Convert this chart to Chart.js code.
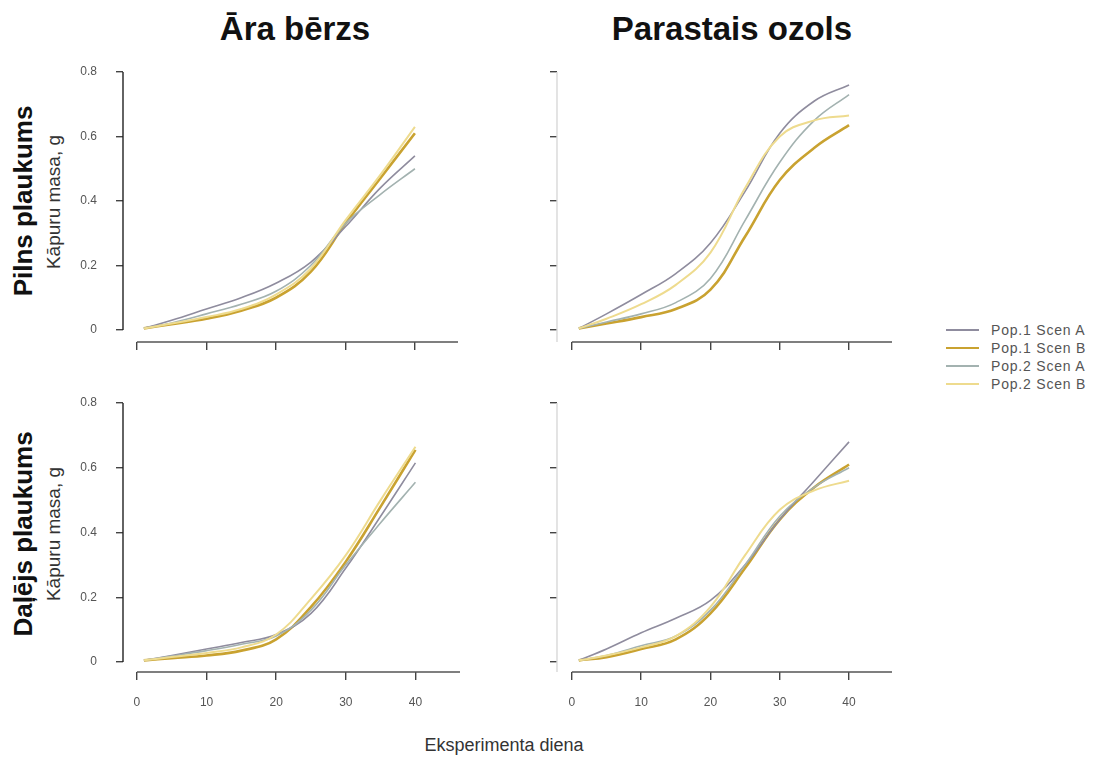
<!DOCTYPE html>
<html>
<head>
<meta charset="utf-8">
<script src="https://cdn.jsdelivr.net/npm/chart.js@4.4.1/dist/chart.umd.min.js"></script>
<style>
  html, body { margin: 0; padding: 0; background: #fff; }
  body { width: 1094px; height: 758px; position: relative; overflow: hidden; font-family: "Liberation Sans", Arial, sans-serif; }
  canvas { position: absolute; left: 0; top: 0; }
  .t { position: absolute; white-space: nowrap; line-height: 1; transform: translate(-50%, -50%); }
  .rot { transform: translate(-50%, -50%) rotate(-90deg); }
  #legend { position: absolute; left: 946px; top: 321px; }
  .lrow { height: 18px; display: flex; align-items: center; }
  .lline { width: 33px; margin-right: 12px; }
  .ltext { font-size: 14px; letter-spacing: 0.8px; color: #555; }
</style>
</head>
<body>
<div class="t" style="left:295px; top:28px; font-size:33px; font-weight:bold; color:#111;">Āra bērzs</div>
<div class="t" style="left:732px; top:28px; font-size:33px; font-weight:bold; color:#111;">Parastais ozols</div>
<div class="t rot" style="left:23px; top:201px; font-size:26px; font-weight:bold; color:#111;">Pilns plaukums</div>
<div class="t rot" style="left:53px; top:202px; font-size:19px; color:#333;">Kāpuru masa, g</div>
<div class="t rot" style="left:23px; top:534px; font-size:26px; font-weight:bold; color:#111;">Daļējs plaukums</div>
<div class="t rot" style="left:53px; top:534px; font-size:19px; color:#333;">Kāpuru masa, g</div>
<div class="t" style="left:504px; top:745px; font-size:18px; color:#333;">Eksperimenta diena</div>
<div id="legend"></div>

<canvas id="c1" width="1094" height="758"></canvas>
<canvas id="c2" width="1094" height="758"></canvas>
<canvas id="c3" width="1094" height="758"></canvas>
<canvas id="c4" width="1094" height="758"></canvas>

<script>
// ---- data ----
const days = [1, 5, 10, 15, 20, 25, 30, 35, 40];
const seriesNames = ['Pop.1 Scen A', 'Pop.1 Scen B', 'Pop.2 Scen A', 'Pop.2 Scen B'];
const xTicks = [0, 10, 20, 30, 40];
const xTickLabels = ['0', '10', '20', '30', '40'];
const yTicks = [0, 0.2, 0.4, 0.6, 0.8];
const yTickLabels = ['0', '0.2', '0.4', '0.6', '0.8'];

// Āra bērzs – Pilns plaukums
const birchFullP1A = [0.005, 0.03, 0.065, 0.10, 0.145, 0.21, 0.32, 0.44, 0.54];
const birchFullP1B = [0.005, 0.018, 0.035, 0.06, 0.10, 0.18, 0.33, 0.47, 0.61];
const birchFullP2A = [0.005, 0.022, 0.05, 0.08, 0.12, 0.20, 0.33, 0.42, 0.50];
const birchFullP2B = [0.005, 0.02, 0.04, 0.065, 0.11, 0.19, 0.34, 0.48, 0.63];
// Parastais ozols – Pilns plaukums
const oakFullP1A = [0.005, 0.05, 0.11, 0.175, 0.27, 0.43, 0.61, 0.71, 0.76];
const oakFullP1B = [0.005, 0.02, 0.04, 0.065, 0.125, 0.29, 0.465, 0.565, 0.635];
const oakFullP2A = [0.005, 0.025, 0.05, 0.085, 0.16, 0.34, 0.52, 0.65, 0.73];
const oakFullP2B = [0.005, 0.035, 0.08, 0.14, 0.24, 0.44, 0.60, 0.65, 0.665];
// Āra bērzs – Daļējs plaukums
const birchPartP1A = [0.005, 0.02, 0.04, 0.06, 0.085, 0.15, 0.29, 0.45, 0.615];
const birchPartP1B = [0.005, 0.012, 0.02, 0.035, 0.07, 0.17, 0.31, 0.48, 0.655];
const birchPartP2A = [0.005, 0.018, 0.035, 0.055, 0.08, 0.16, 0.30, 0.43, 0.555];
const birchPartP2B = [0.005, 0.015, 0.028, 0.045, 0.085, 0.195, 0.33, 0.50, 0.665];
// Parastais ozols – Daļējs plaukums
const oakPartP1A = [0.005, 0.04, 0.09, 0.135, 0.19, 0.30, 0.44, 0.56, 0.68];
const oakPartP1B = [0.005, 0.015, 0.04, 0.07, 0.15, 0.29, 0.44, 0.54, 0.61];
const oakPartP2A = [0.005, 0.02, 0.05, 0.08, 0.16, 0.30, 0.45, 0.54, 0.60];
const oakPartP2B = [0.005, 0.02, 0.045, 0.08, 0.17, 0.33, 0.47, 0.53, 0.56];

// ---- styles ----
const seriesColors = ['#8f8c9e', '#c9a230', '#a3b2b0', '#eedb8e'];
const seriesWidths = [1.6, 2.6, 1.6, 2.0];

// legend
const legendEl = document.getElementById('legend');
seriesNames.forEach((n, i) => {
  const row = document.createElement('div');
  row.className = 'lrow';
  const ln = document.createElement('div');
  ln.className = 'lline';
  ln.style.height = seriesWidths[i] + 'px';
  ln.style.background = seriesColors[i];
  const tx = document.createElement('span');
  tx.className = 'ltext';
  tx.textContent = n;
  row.appendChild(ln); row.appendChild(tx);
  legendEl.appendChild(row);
});

const axisLines = {
  id: 'axisLines',
  afterDraw(chart, args, opts) {
    const ctx = chart.ctx, xs = chart.scales.x, ys = chart.scales.y, ca = chart.chartArea;
    ctx.save();
    ctx.lineWidth = 1.4;
    ctx.strokeStyle = opts.yColor;
    ctx.beginPath();
    ctx.moveTo(ca.left, ys.getPixelForValue(yTicks[yTicks.length - 1]));
    ctx.lineTo(ca.left, opts.yToBottom ? ca.bottom : ys.getPixelForValue(yTicks[0]));
    ctx.stroke();
    ctx.strokeStyle = '#555';
    ctx.beginPath();
    ctx.moveTo(xs.getPixelForValue(xTicks[0]), ca.bottom);
    ctx.lineTo(ca.right, ca.bottom);
    ctx.stroke();
    ctx.restore();
  }
};

function makePanel(id, series, p) {
  const datasets = series.map((vals, i) => ({
    label: seriesNames[i],
    data: days.map((d, k) => ({ x: d, y: vals[k] })),
    borderColor: seriesColors[i],
    borderWidth: seriesWidths[i],
    pointRadius: 0,
    tension: 0.4,
    fill: false
  }));
  const order = [3, 2, 0, 1];
  const ds = order.map(i => datasets[i]);
  new Chart(document.getElementById(id), {
    type: 'line',
    data: { datasets: ds },
    plugins: [axisLines],
    options: {
      responsive: false,
      animation: false,
      events: [],
      clip: false,
      layout: { padding: { left: p.left - 60, right: 1094 - p.right, top: p.top, bottom: 758 - p.bottom - 45 } },
      plugins: {
        legend: { display: false },
        tooltip: { enabled: false },
        axisLines: { yColor: p.yColor, yToBottom: p.yToBottom }
      },
      scales: {
        x: {
          type: 'linear',
          min: p.xmin, max: p.xmax,
          afterBuildTicks: s => { s.ticks = xTicks.map(v => ({ value: v })); },
          afterFit: s => { s.height = 45; },
          border: { display: false },
          grid: { display: true, drawOnChartArea: false, drawTicks: true, tickLength: 8, color: '#444', lineWidth: 1.4 },
          ticks: {
            display: p.xLabels, autoSkip: false, maxRotation: 0, padding: 15,
            color: '#555', font: { family: 'Liberation Sans', size: 12 },
            callback: (v, i) => xTickLabels[i]
          }
        },
        y: {
          type: 'linear',
          min: p.ymin, max: 0.8,
          afterBuildTicks: s => { s.ticks = yTicks.map(v => ({ value: v })); },
          afterFit: s => { s.width = 60; },
          border: { display: false },
          grid: { display: true, drawOnChartArea: false, drawTicks: true, tickLength: 7, color: '#444', lineWidth: 1.4 },
          ticks: {
            display: p.yLabels, autoSkip: false, padding: 19,
            color: '#555', font: { family: 'Liberation Sans', size: 12 },
            callback: (v, i) => yTickLabels[i]
          }
        }
      }
    }
  });
}

makePanel('c1', [birchFullP1A, birchFullP1B, birchFullP2A, birchFullP2B],
  { left: 123, right: 458, top: 72, bottom: 342, xmin: -2.0, xmax: 46.2, ymin: -0.0372, yLabels: true, xLabels: false, yColor: '#222', yToBottom: false });
makePanel('c2', [oakFullP1A, oakFullP1B, oakFullP2A, oakFullP2B],
  { left: 557, right: 892, top: 72, bottom: 342, xmin: -2.15, xmax: 46.2, ymin: -0.0372, yLabels: false, xLabels: false, yColor: '#d8d8d8', yToBottom: true });
makePanel('c3', [birchPartP1A, birchPartP1B, birchPartP2A, birchPartP2B],
  { left: 123, right: 460, top: 403, bottom: 672, xmin: -2.0, xmax: 46.4, ymin: -0.031, yLabels: true, xLabels: true, yColor: '#222', yToBottom: false });
makePanel('c4', [oakPartP1A, oakPartP1B, oakPartP2A, oakPartP2B],
  { left: 557, right: 892, top: 403, bottom: 672, xmin: -2.15, xmax: 46.2, ymin: -0.031, yLabels: false, xLabels: true, yColor: '#d8d8d8', yToBottom: true });
</script>
</body>
</html>
